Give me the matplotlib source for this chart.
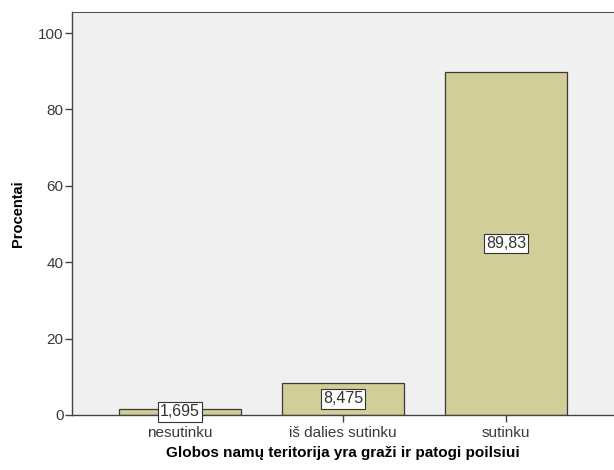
import matplotlib
matplotlib.use("Agg")
import matplotlib.pyplot as plt

categories = ["nesutinku", "iš dalies sutinku", "sutinku"]
percent = [1.695, 8.475, 89.83]
value_labels = ["1,695", "8,475", "89,83"]

plt.rcParams['font.family'] = ['Liberation Sans', 'DejaVu Sans']

fig = plt.figure(figsize=(6.14, 4.70), dpi=100)
ax = fig.add_axes([72 / 614, 55 / 470, 1 - 72 / 614, (415 - 12) / 470])
ax.set_facecolor("#f0f0f0")

pos = range(len(categories))
ax.bar(pos, percent, width=0.75, color="#d3cd97", edgecolor="#3a3a3a", linewidth=0.9)

for i, (v, lab) in enumerate(zip(percent, value_labels)):
    ax.text(i, v / 2, lab, ha="center", va="center", fontsize=11.5, color="#333333",
            bbox=dict(boxstyle="square,pad=0.15", facecolor="white", edgecolor="#333333", linewidth=0.8))

ax.set_xlim(-0.663, 2.663)
ax.set_ylim(0, 105.5)
ax.set_yticks([0, 20, 40, 60, 80, 100])
ax.set_xticks(list(pos))
ax.set_xticklabels(categories)
ax.tick_params(axis="both", labelsize=11, labelcolor="#3a3a3a", color="#444444", length=5, width=1)
ax.tick_params(axis="x", pad=3)
ax.tick_params(axis="y", pad=1)

ax.spines["right"].set_visible(False)
for s in ["left", "bottom"]:
    ax.spines[s].set_color("#444444")
    ax.spines[s].set_linewidth(1)
ax.spines["top"].set_color("#555555")

ax.set_ylabel("Procentai", fontsize=10.5, fontweight="bold")
ax.yaxis.set_label_coords(-47 / 542, 0.5)
ax.set_xlabel("Globos namų teritorija yra graži ir patogi poilsiui", fontsize=11, fontweight="bold", labelpad=4)

fig.savefig("out.png", dpi=100)
